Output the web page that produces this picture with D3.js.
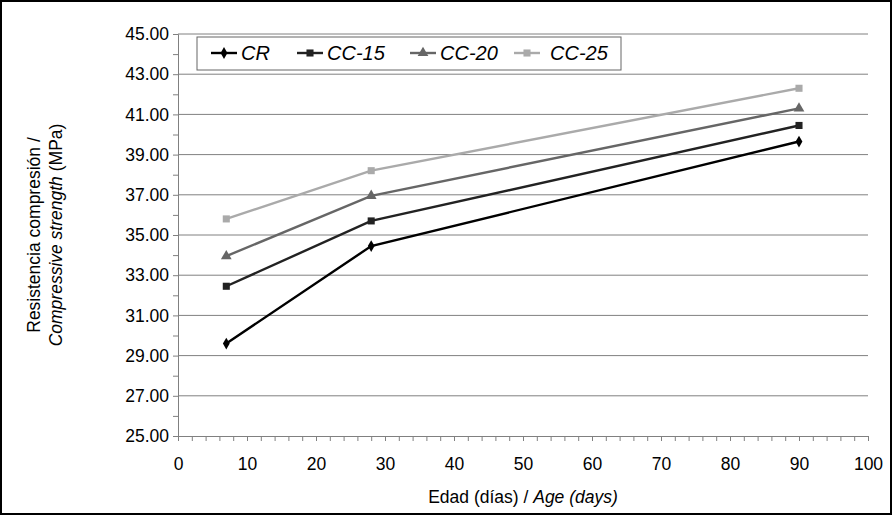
<!DOCTYPE html>
<html><head><meta charset="utf-8">
<script src="https://cdn.jsdelivr.net/npm/d3@7"></script>
<style>body{margin:0;background:#fff}text{font-family:Arial,"Liberation Sans",sans-serif}</style>
</head><body><div id="chart"></div>
<script>
const ages = [7, 28, 90];
const seriesNames = ["CR", "CC-15", "CC-20", "CC-25"];
const cr = [29.6, 34.45, 39.65];
const cc15 = [32.45, 35.7, 40.45];
const cc20 = [33.95, 36.95, 41.3];
const cc25 = [35.8, 38.2, 42.3];
const yTicks = [25, 27, 29, 31, 33, 35, 37, 39, 41, 43, 45];
const xTicks = [0, 10, 20, 30, 40, 50, 60, 70, 80, 90, 100];

const colors = ["#000", "#222", "#666", "#aaa"];
const shapes = [d3.symbolDiamond, d3.symbolSquare, d3.symbolTriangle, d3.symbolSquare];
const allSeries = [cr, cc15, cc20, cc25];

const W = 892, H = 515;
const svg = d3.select("#chart").append("svg").attr("width", W).attr("height", H);
svg.append("rect").attr("x", 1).attr("y", 1).attr("width", W - 2).attr("height", H - 2)
  .attr("fill", "none").attr("stroke", "#000").attr("stroke-width", 2);

const x = d3.scaleLinear().domain([0, 100]).range([178, 868]);
const y = d3.scaleLinear().domain([25, 45]).range([436, 34]);

// grid
svg.append("g").selectAll("line").data(yTicks.slice(1)).enter().append("line")
  .attr("x1", 178).attr("x2", 868).attr("y1", d => y(d)).attr("y2", d => y(d))
  .attr("stroke", "#808080").attr("stroke-width", 1);

svg.append("g").attr("transform", "translate(178,0)")
  .call(d3.axisLeft(y).tickValues(d3.range(25, 45.01, 1)).tickSize(5).tickFormat(""));
svg.append("g").attr("transform", "translate(178,0)")
  .call(d3.axisLeft(y).tickValues(yTicks).tickSize(0).tickPadding(9).tickFormat(d3.format(".2f")))
  .call(g => g.select(".domain").remove())
  .selectAll("text").attr("font-size", 17.5).attr("fill", "#000");
svg.append("g").attr("transform", "translate(0,436)")
  .call(d3.axisBottom(x).tickValues(d3.range(0, 100.01, 2)).tickSize(5).tickFormat(""));
svg.append("g").attr("transform", "translate(0,436)")
  .call(d3.axisBottom(x).tickValues(xTicks).tickSize(0).tickPadding(22))
  .call(g => g.select(".domain").remove())
  .selectAll("text").attr("font-size", 17.5).attr("fill", "#000");
svg.selectAll(".domain, .tick line").attr("stroke", "#808080");

// series
const line = d3.line().x((d, i) => x(ages[i])).y(d => y(d));
allSeries.forEach((s, k) => {
  svg.append("path").datum(s).attr("d", line).attr("fill", "none")
    .attr("stroke", colors[k]).attr("stroke-width", 2.4);
  svg.selectAll(null).data(s).enter().append("path")
    .attr("transform", (d, i) => `translate(${x(ages[i])},${y(d)})`)
    .attr("d", d3.symbol().type(shapes[k]).size(k === 0 ? 40 : 50)).attr("fill", colors[k]);
});

// legend
const lg = svg.append("g");
lg.append("rect").attr("x", 197).attr("y", 37).attr("width", 424).attr("height", 33)
  .attr("fill", "#fff").attr("stroke", "#666");
const lx = [211, 297, 410, 514];
seriesNames.forEach((n, k) => {
  lg.append("line").attr("x1", lx[k]).attr("x2", lx[k] + 26).attr("y1", 53).attr("y2", 53)
    .attr("stroke", colors[k]).attr("stroke-width", 2.4);
  lg.append("path").attr("transform", `translate(${lx[k] + 13},53)`)
    .attr("d", d3.symbol().type(shapes[k]).size(k === 0 ? 40 : 50)).attr("fill", colors[k]);
  lg.append("text").attr("x", lx[k] + (k === 3 ? 36 : 30)).attr("y", 60).attr("font-size", 20)
    .attr("font-style", "italic").text(n);
});

// axis titles
svg.append("text").attr("x", 523).attr("y", 503).attr("text-anchor", "middle").attr("font-size", 17.5)
  .html('Edad (días) / <tspan font-style="italic">Age (days)</tspan>');
const yt = svg.append("text").attr("transform", "translate(0,235) rotate(-90)")
  .attr("text-anchor", "middle").attr("font-size", 17.5);
yt.append("tspan").attr("x", 0).attr("y", 40).text("Resistencia compresión /");
yt.append("tspan").attr("x", 0).attr("y", 62).html('<tspan font-style="italic">Compressive strength</tspan> (MPa)');
</script></body></html>
